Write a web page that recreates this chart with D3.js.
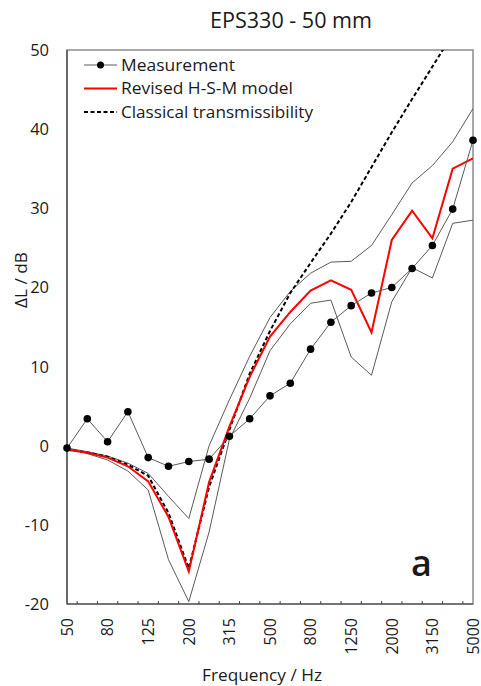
<!DOCTYPE html>
<html>
<head>
<meta charset="utf-8">
<script src="https://cdn.jsdelivr.net/npm/d3@7"></script>
<style>
  body { margin: 0; background: #fff; }
  text { font-family: "Open Sans", "Noto Sans", sans-serif; fill: #1a1a1a; }
</style>
</head>
<body>
<svg id="chart" width="481" height="686"></svg>
<script>
// 1/3 octave bands (Hz)
const bands = ['50', '63', '80', '100', '125', '160', '200', '250', '315', '400', '500',
  '630', '800', '1000', '1250', '1600', '2000', '2500', '3150', '4000', '5000'];

// measured mean, with its upper and lower bounds
const measured = [-0.3, 3.4, 0.5, 4.3, -1.5, -2.6, -2.0, -1.7, 1.2, 3.4, 6.3,
  7.9, 12.2, 15.6, 17.7, 19.3, 20.0, 22.4, 25.3, 29.9, 38.6];
const measUpper = [-0.3, -0.75, -1.3, -2.2, -3.5, -6.4, -9.2, 0.0, 5.8, 11.3, 16.2,
  19.5, 21.8, 23.2, 23.3, 25.3, 29.2, 33.2, 35.4, 38.4, 42.6];
const measLower = [-0.3, -1.0, -1.8, -3.2, -5.6, -14.4, -19.7, -10.9, 0.8, 6.0, 12.0,
  15.4, 18.0, 18.4, 11.2, 8.9, 18.2, 22.5, 21.2, 28.1, 28.5];

// models
const revisedHSM = [-0.5, -0.9, -1.5, -2.6, -4.5, -9.0, -15.9, -4.6, 2.4, 8.7, 13.8,
  16.9, 19.6, 20.9, 19.7, 14.3, 26.0, 29.7, 26.2, 35.0, 36.3];
const classical = [-0.5, -0.85, -1.4, -2.4, -3.8, -8.5, -15.5, -5.2, 2.0, 9.1, 14.5,
  19.3, 23.1, 26.8, 30.8, 35.2, 39.6, 43.8, 47.9, 52.0, 56.0];

const yTicks = [-20, -10, 0, 10, 20, 30, 40, 50];
const xLabelBands = ['50', '80', '125', '200', '315', '500', '800', '1250', '2000', '3150', '5000'];

const svg = d3.select('#chart');
const margin = { top: 50, right: 8, bottom: 82, left: 67 };
const width = 481 - margin.left - margin.right;
const height = 686 - margin.top - margin.bottom;

const x = d3.scalePoint().domain(bands).range([0, width]);
const y = d3.scaleLinear().domain([-20, 50]).range([height, 0]);

const g = svg.append('g').attr('transform', `translate(${margin.left},${margin.top})`);

g.append('clipPath').attr('id', 'plot-clip')
  .append('rect').attr('width', width).attr('height', height);

// plot frame
g.append('rect')
  .attr('width', width).attr('height', height)
  .attr('fill', 'none').attr('stroke', '#8c8c8c').attr('stroke-width', 1.5);
g.append('line').attr('x1', 0).attr('x2', 0).attr('y1', 0).attr('y2', height)
  .attr('stroke', '#404040').attr('stroke-width', 1.2);
g.append('line').attr('x1', 0).attr('x2', width).attr('y1', height).attr('y2', height)
  .attr('stroke', '#404040').attr('stroke-width', 1.2);

// tick marks sit between band centres, pointing into the plot
const step = x.step();
g.selectAll('.xtick')
  .data(bands.slice(1))
  .join('line')
  .attr('class', 'xtick')
  .attr('x1', (d) => x(d) - step / 2)
  .attr('x2', (d) => x(d) - step / 2)
  .attr('y1', height)
  .attr('y2', height - 3)
  .attr('stroke', '#404040');

// y tick labels
g.selectAll('.ylab')
  .data(yTicks)
  .join('text')
  .attr('class', 'ylab')
  .attr('x', -18)
  .attr('y', (d) => y(d))
  .attr('dy', '0.36em')
  .attr('text-anchor', 'end')
  .style('font-size', '16.5px')
  .text((d) => d);

// x tick labels, rotated
g.selectAll('.xlab')
  .data(xLabelBands)
  .join('text')
  .attr('class', 'xlab')
  .attr('transform', (d) => `translate(${x(d)},${height + 14}) rotate(-90)`)
  .attr('dy', '0.36em')
  .attr('text-anchor', 'end')
  .style('font-size', '16px')
  .text((d) => d);

// axis titles
svg.append('text')
  .attr('x', 262).attr('y', 681)
  .attr('text-anchor', 'middle')
  .attr('textLength', 120)
  .attr('lengthAdjust', 'spacingAndGlyphs')
  .style('font-size', '17px')
  .text('Frequency / Hz');

svg.append('text')
  .attr('transform', 'translate(26.5,280) rotate(-90)')
  .attr('text-anchor', 'middle')
  .attr('textLength', 56)
  .attr('lengthAdjust', 'spacingAndGlyphs')
  .style('font-size', '17px')
  .text('ΔL / dB');

svg.append('text')
  .attr('x', 291).attr('y', 28)
  .attr('text-anchor', 'middle')
  .attr('textLength', 162)
  .attr('lengthAdjust', 'spacingAndGlyphs')
  .style('font-size', '21px')
  .text('EPS330 - 50 mm');

const line = (vals) => d3.line()
  .x((d, i) => x(bands[i]))
  .y((d) => y(d))(vals);

const plot = g.append('g').attr('clip-path', 'url(#plot-clip)');

[measUpper, measLower].forEach((vals) => {
  plot.append('path')
    .attr('d', line(vals))
    .attr('fill', 'none')
    .attr('stroke', '#5a5a5a')
    .attr('stroke-width', 1);
});

plot.append('path')
  .attr('d', line(classical))
  .attr('fill', 'none')
  .attr('stroke', '#000')
  .attr('stroke-width', 2)
  .attr('stroke-dasharray', '4,2.5');

plot.append('path')
  .attr('d', line(revisedHSM))
  .attr('fill', 'none')
  .attr('stroke', '#ff0000')
  .attr('stroke-width', 2);

plot.append('path')
  .attr('d', line(measured))
  .attr('fill', 'none')
  .attr('stroke', '#5a5a5a')
  .attr('stroke-width', 1);

g.selectAll('.dot')
  .data(measured)
  .join('circle')
  .attr('class', 'dot')
  .attr('cx', (d, i) => x(bands[i]))
  .attr('cy', (d) => y(d))
  .attr('r', 3.8)
  .attr('fill', '#000');

// legend
const legend = [
  { label: 'Measurement', len: 114, stroke: '#5a5a5a', width: 1, dash: null, dot: true },
  { label: 'Revised H-S-M model', len: 172, stroke: '#ff0000', width: 2, dash: null, dot: false },
  { label: 'Classical transmissibility', len: 192, stroke: '#000', width: 2, dash: '4,2.5', dot: false },
];
const lg = g.append('g').attr('transform', 'translate(17,15)');
legend.forEach((d, i) => {
  const row = lg.append('g').attr('transform', `translate(0,${i * 23.5})`);
  row.append('line')
    .attr('x1', 0).attr('x2', 33)
    .attr('stroke', d.stroke)
    .attr('stroke-width', d.width)
    .attr('stroke-dasharray', d.dash);
  if (d.dot) row.append('circle').attr('cx', 16.5).attr('r', 3.5).attr('fill', '#000');
  row.append('text')
    .attr('x', 37).attr('dy', '0.36em')
    .attr('textLength', d.len)
    .attr('lengthAdjust', 'spacingAndGlyphs')
    .style('font-size', '16.5px')
    .text(d.label);
});

g.append('text')
  .attr('x', 344).attr('y', 526)
  .style('font-size', '36px')
  .style('font-weight', 600)
  .text('a');
</script>
</body>
</html>
